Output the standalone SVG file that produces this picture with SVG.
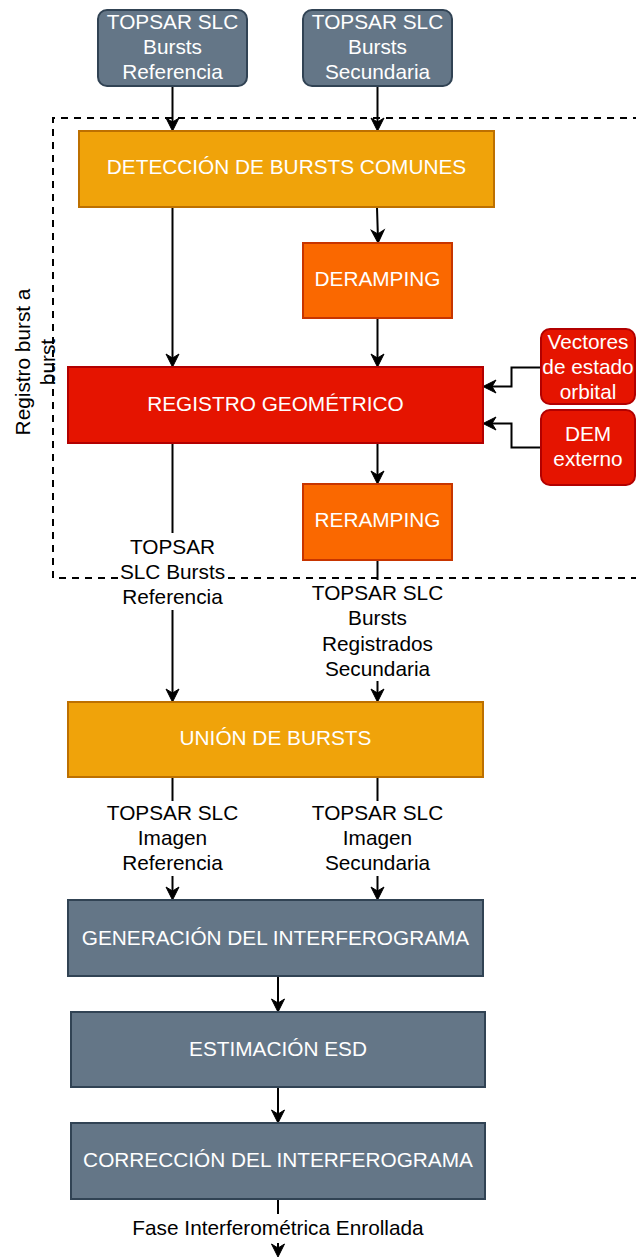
<svg xmlns="http://www.w3.org/2000/svg" width="636" height="1257" viewBox="0 0 636 1257">
<style>
text{font-family:"Liberation Sans",Arial,Helvetica,sans-serif;font-size:20.8px;text-anchor:middle}
.w{fill:#ffffff}
.k{fill:#000000}
.slate{fill:#647687;stroke:#314354;stroke-width:2}
.amber{fill:#f0a30a;stroke:#BD7000;stroke-width:2}
.orange{fill:#fa6800;stroke:#C73500;stroke-width:2}
.red{fill:#e51400;stroke:#B20000;stroke-width:2}
.edge{fill:none;stroke:#000000;stroke-width:2}
.lblbg{fill:#ffffff;stroke:none}
</style>
<defs>
<marker id="arr" viewBox="-12 -8 16 16" refX="0" refY="0" markerWidth="16" markerHeight="16" markerUnits="userSpaceOnUse" orient="auto">
<path d="M3,0 L-10,-6.5 L-6,0 L-10,6.5 Z" fill="#000000" stroke="#000000" stroke-width="1" stroke-linejoin="miter"/>
</marker>
</defs>

<g id="container">
<path d="M640,118 H53 V578 H640" fill="none" stroke="#000000" stroke-width="2" stroke-dasharray="7 6"/>
<text class="k" transform="translate(35,362) rotate(-90)"><tspan x="0" y="-5.5">Registro burst a</tspan><tspan x="0" y="20">burst</tspan></text>
</g>

<g id="connectors">
<path class="edge" d="M172.5,86 V128" marker-end="url(#arr)"/>
<path class="edge" d="M377.5,86 V128" marker-end="url(#arr)"/>
<path class="edge" d="M377,207 L378,240" marker-end="url(#arr)"/>
<path class="edge" d="M172.5,207 V364" marker-end="url(#arr)"/>
<path class="edge" d="M377.5,318 V364" marker-end="url(#arr)"/>
<path class="edge" d="M541,367.5 H511.5 V386.5 H486" marker-end="url(#arr)"/>
<path class="edge" d="M541,447.5 H511.5 V423.5 H486" marker-end="url(#arr)"/>
<path class="edge" d="M377.5,443 V481" marker-end="url(#arr)"/>
<path class="edge" d="M172.5,443 V699" marker-end="url(#arr)"/>
<path class="edge" d="M377.5,560 V699" marker-end="url(#arr)"/>
<path class="edge" d="M172.5,777 V897" marker-end="url(#arr)"/>
<path class="edge" d="M377.5,777 V897" marker-end="url(#arr)"/>
<path class="edge" d="M278,976 V1009" marker-end="url(#arr)"/>
<path class="edge" d="M278,1087 V1120" marker-end="url(#arr)"/>
<path class="edge" d="M278,1199 V1254" marker-end="url(#arr)"/>

<g id="lbl-ref-bursts">
<rect class="lblbg" x="118" y="533" width="110" height="77"/>
<text class="k"><tspan x="172.5" y="553.5">TOPSAR</tspan><tspan x="172.5" y="578.5">SLC Bursts</tspan><tspan x="172.5" y="603.5">Referencia</tspan></text>
</g>
<g id="lbl-sec-bursts">
<rect class="lblbg" x="310" y="580" width="135" height="101"/>
<text class="k"><tspan x="377.5" y="600.3">TOPSAR SLC</tspan><tspan x="377.5" y="625.3">Bursts</tspan><tspan x="377.5" y="650.6">Registrados</tspan><tspan x="377.5" y="675.6">Secundaria</tspan></text>
</g>
<g id="lbl-ref-img">
<rect class="lblbg" x="106" y="801" width="133" height="75"/>
<text class="k"><tspan x="172.5" y="820">TOPSAR SLC</tspan><tspan x="172.5" y="845">Imagen</tspan><tspan x="172.5" y="870">Referencia</tspan></text>
</g>
<g id="lbl-sec-img">
<rect class="lblbg" x="311" y="801" width="133" height="75"/>
<text class="k"><tspan x="377.5" y="820">TOPSAR SLC</tspan><tspan x="377.5" y="845">Imagen</tspan><tspan x="377.5" y="870">Secundaria</tspan></text>
</g>
<g id="lbl-fase">
<rect class="lblbg" x="130" y="1214" width="296" height="29"/>
<text class="k" x="278" y="1235">Fase Interferométrica Enrollada</text>
</g>
</g>

<g id="n-ref-in">
<rect class="slate" x="98" y="10" width="149" height="76" rx="9"/>
<text class="w"><tspan x="172.5" y="29">TOPSAR SLC</tspan><tspan x="172.5" y="54">Bursts</tspan><tspan x="172.5" y="79">Referencia</tspan></text>
</g>
<g id="n-sec-in">
<rect class="slate" x="303" y="10" width="149" height="76" rx="9"/>
<text class="w"><tspan x="377.5" y="29">TOPSAR SLC</tspan><tspan x="377.5" y="54">Bursts</tspan><tspan x="377.5" y="79">Secundaria</tspan></text>
</g>
<g id="n-deteccion">
<rect class="amber" x="79" y="131" width="415" height="76"/>
<text class="w" x="286.5" y="174">DETECCIÓN DE BURSTS COMUNES</text>
</g>
<g id="n-deramping">
<rect class="orange" x="303" y="243" width="149" height="75"/>
<text class="w" x="377.5" y="285.7">DERAMPING</text>
</g>
<g id="n-registro">
<rect class="red" x="68" y="367" width="415" height="76"/>
<text class="w" x="275.5" y="410.7">REGISTRO GEOMÉTRICO</text>
</g>
<g id="n-vectores">
<rect class="red" x="541" y="329" width="94" height="75" rx="9"/>
<text class="w"><tspan x="588" y="349">Vectores</tspan><tspan x="588" y="374">de estado</tspan><tspan x="588" y="399">orbital</tspan></text>
</g>
<g id="n-dem">
<rect class="red" x="541" y="410" width="94" height="75" rx="9"/>
<text class="w"><tspan x="588" y="440.5">DEM</tspan><tspan x="588" y="465.5">externo</tspan></text>
</g>
<g id="n-reramping">
<rect class="orange" x="303" y="484" width="149" height="76"/>
<text class="w" x="377.5" y="527.4">RERAMPING</text>
</g>
<g id="n-union">
<rect class="amber" x="68" y="702" width="415" height="75"/>
<text class="w" x="275.5" y="745">UNIÓN DE BURSTS</text>
</g>
<g id="n-generacion">
<rect class="slate" x="68" y="900" width="415" height="76"/>
<text class="w" x="275.5" y="944.5">GENERACIÓN DEL INTERFEROGRAMA</text>
</g>
<g id="n-estimacion">
<rect class="slate" x="71" y="1012" width="414" height="75"/>
<text class="w" x="278" y="1055.7">ESTIMACIÓN ESD</text>
</g>
<g id="n-correccion">
<rect class="slate" x="71" y="1123" width="414" height="76"/>
<text class="w" x="278" y="1167.4">CORRECCIÓN DEL INTERFEROGRAMA</text>
</g>
</svg>
